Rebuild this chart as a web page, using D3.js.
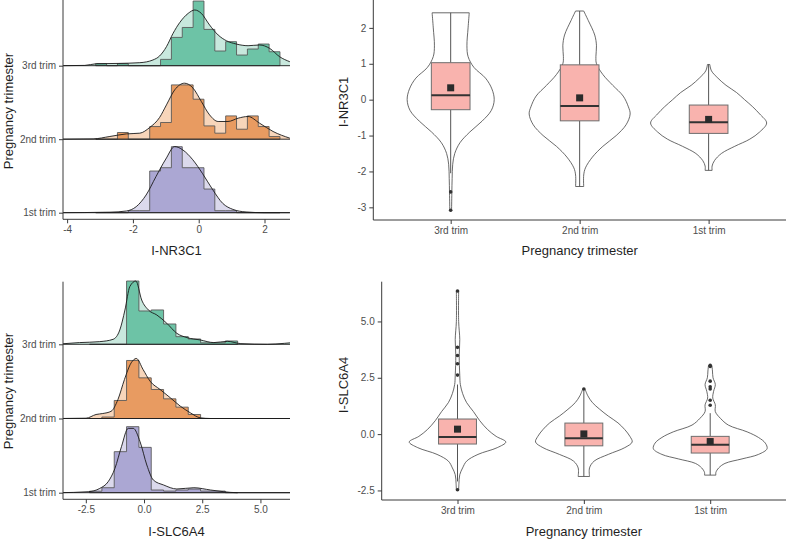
<!DOCTYPE html>
<html><head><meta charset="utf-8">
<script src="https://cdn.jsdelivr.net/npm/d3@7"></script>
<style>
body{margin:0;background:#fff}
svg{display:block}
text{font-family:"Liberation Sans",Arial,Helvetica,sans-serif}
</style>
</head><body>
<svg id="chart" width="788" height="539"></svg>
<script>
// ---------------- DATA ----------------
const groups = ["3rd trim", "2nd trim", "1st trim"];
const yTitle = "Pregnancy trimester";

// I-NR3C1 ridgeline: histogram bin edges and heights (fraction of row spacing)
const nrTicks = [-4, -2, 0, 2];
const nrEdges = [-3.13, -2.80, -2.47, -2.14, -1.81, -1.49, -1.16, -0.83, -0.50, -0.17, 0.16, 0.49, 0.82, 1.15, 1.48, 1.81, 2.14, 2.47];
const nrHist3 = [0.027, 0, 0.027, 0, 0, 0, 0.086, 0.385, 0.52, 0.88, 0.494, 0.2, 0.327, 0.145, 0.227, 0.295, 0.19];
const nrHist2 = [0, 0, 0.091, 0, 0, 0.172, 0.227, 0.739, 0.739, 0.544, 0.181, 0.082, 0.317, 0.136, 0.317, 0.172, 0.036];
const nrHist1 = [0, 0, 0, 0.027, 0.027, 0.567, 0.612, 0.898, 0.612, 0.612, 0.322, 0.027, 0.027, 0, 0, 0, 0];
// density curves [value, height]
const nrDens3 = [[-4.22,0],[-3.46,0.004],[-3.11,0.027],[-2.45,0.031],[-1.79,0.041],[-1.39,0.078],[-1.19,0.132],[-0.98,0.259],[-0.78,0.44],[-0.58,0.585],[-0.32,0.712],[-0.12,0.758],[0.08,0.712],[0.33,0.554],[0.59,0.418],[0.84,0.34],[1.14,0.295],[1.5,0.272],[1.85,0.282],[2.16,0.235],[2.46,0.122],[2.77,0.054]];
const nrDens2 = [[-4.22,0],[-3.21,0.004],[-2.7,0.037],[-2.2,0.072],[-1.79,0.082],[-1.49,0.159],[-1.19,0.295],[-0.98,0.467],[-0.73,0.671],[-0.43,0.762],[-0.17,0.694],[0.08,0.513],[0.33,0.331],[0.59,0.241],[0.89,0.241],[1.2,0.286],[1.5,0.309],[1.85,0.218],[2.26,0.105],[2.77,0.014]];
const nrDens1 = [[-4.22,0],[-2.7,0.007],[-2.2,0.023],[-1.9,0.082],[-1.6,0.24],[-1.3,0.49],[-1.0,0.73],[-0.73,0.9],[-0.48,0.853],[-0.18,0.72],[0.12,0.53],[0.43,0.31],[0.73,0.127],[1.04,0.045],[1.44,0.01],[2.0,0],[2.77,0]];

// I-SLC6A4 ridgeline
const slTicks = [-2.5, 0, 2.5, 5];
const slEdges = [-2.34, -1.81, -1.28, -0.75, -0.22, 0.31, 0.84, 1.37, 1.90, 2.43, 2.96, 3.49, 4.02];
const slHist3 = [0, 0, 0, 0.853, 0.449, 0.463, 0.274, 0.103, 0.072, 0.02, 0.02, 0.045];
const slHist2 = [0, 0.02, 0.243, 0.782, 0.548, 0.391, 0.265, 0.153, 0.054, 0, 0, 0];
const slHist1 = [0.02, 0.067, 0.553, 0.89, 0.611, 0.036, 0.022, 0.036, 0.049, 0.022, 0.022, 0];
const slDens3 = [[-3.64,0.004],[-2.77,0.023],[-1.9,0.036],[-1.33,0.067],[-1.04,0.193],[-0.82,0.462],[-0.61,0.778],[-0.35,0.853],[-0.1,0.597],[0.19,0.462],[0.55,0.395],[0.98,0.283],[1.41,0.148],[1.85,0.09],[2.42,0.058],[3.0,0.023],[3.58,0.04],[4.16,0.009],[5.3,0],[6.03,0.013],[6.4,0.023]];
const slDens2 = [[-3.64,0],[-2.49,0.004],[-2.06,0.054],[-1.77,0.067],[-1.41,0.098],[-1.12,0.256],[-0.84,0.526],[-0.55,0.751],[-0.33,0.809],[-0.04,0.66],[0.26,0.503],[0.69,0.391],[1.13,0.279],[1.56,0.166],[1.99,0.077],[2.42,0.009],[2.86,0],[6.4,0]];
const slDens1 = [[-3.64,0],[-2.4,0.013],[-1.9,0.058],[-1.54,0.148],[-1.25,0.327],[-0.97,0.62],[-0.68,0.867],[-0.46,0.867],[-0.17,0.687],[0.12,0.373],[0.4,0.171],[0.84,0.104],[1.41,0.05],[2.14,0.067],[2.86,0.036],[3.43,0.013],[4.0,0],[6.4,0]];

// Violins: [value, relative half-width]
const nrYTicks = [-3, -2, -1, 0, 1, 2];
const vioNR3 = [[2.42,0.32],[2.0,0.30],[1.5,0.28],[1.2,0.30],[0.9,0.40],[0.6,0.60],[0.3,0.71],[0,0.75],[-0.3,0.70],[-0.6,0.54],[-0.9,0.33],[-1.2,0.16],[-1.5,0.07],[-1.8,0.035],[-2.2,0.025],[-2.6,0.02],[-3.1,0.015]];
const vioNR2 = [[2.47,0.07],[2.2,0.15],[1.8,0.26],[1.5,0.29],[1.2,0.28],[1.0,0.29],[0.7,0.40],[0.4,0.57],[0.1,0.75],[-0.2,0.84],[-0.4,0.87],[-0.7,0.80],[-1.0,0.63],[-1.3,0.40],[-1.6,0.22],[-1.9,0.10],[-2.1,0.07],[-2.42,0.07]];
const vioNR1 = [[0.98,0.02],[0.8,0.05],[0.6,0.16],[0.4,0.30],[0.2,0.48],[0,0.62],[-0.2,0.76],[-0.4,0.88],[-0.65,1.0],[-0.9,0.88],[-1.1,0.71],[-1.3,0.45],[-1.5,0.22],[-1.7,0.10],[-1.85,0.06],[-1.97,0.06]];
// box stats: [whiskerLow, q1, median, q3, whiskerHigh, mean]
const boxNR = [[-2.05,-0.28,0.12,1.03,2.42,0.33],[-2.42,-0.59,-0.18,0.97,2.47,0.05],[-1.97,-0.94,-0.63,-0.15,0.98,-0.55]];
const outNR = [[-2.57,-3.08],[],[]];

const slYTicks = [-2.5, 0, 2.5, 5];
const vioSL3 = [[6.35,0.02],[5.0,0.02],[4.2,0.04],[3.5,0.03],[2.6,0.04],[2.2,0.05],[1.8,0.09],[1.4,0.16],[1.0,0.28],[0.6,0.39],[0.2,0.53],[-0.1,0.68],[-0.35,0.85],[-0.6,0.70],[-0.9,0.36],[-1.2,0.16],[-1.5,0.09],[-1.8,0.04],[-2.2,0.025],[-2.5,0.02]];
const vioSL2 = [[2.0,0.02],[1.7,0.07],[1.4,0.15],[1.1,0.28],[0.8,0.43],[0.5,0.60],[0.2,0.72],[-0.1,0.81],[-0.35,0.85],[-0.6,0.72],[-0.9,0.43],[-1.2,0.18],[-1.5,0.10],[-1.88,0.10]];
const vioSL1 = [[3.05,0.03],[2.8,0.04],[2.5,0.05],[2.2,0.09],[1.9,0.06],[1.6,0.045],[1.3,0.09],[1.0,0.09],[0.7,0.18],[0.4,0.32],[0.1,0.65],[-0.15,0.85],[-0.4,0.97],[-0.65,1.0],[-0.9,0.85],[-1.1,0.56],[-1.3,0.26],[-1.5,0.15],[-1.7,0.10],[-1.82,0.10]];
const boxSL = [[-2.1,-0.44,-0.13,0.67,2.2,0.22],[-1.88,-0.52,-0.18,0.49,1.95,0.01],[-1.82,-0.84,-0.47,-0.1,0.93,-0.33]];
const outSL = [[2.62,3.12,3.49,3.85,6.35,-2.47],[2.0],[1.28,1.5,2.0,2.1,2.35,3.0,3.05]];

// ---------------- STYLE ----------------
const histFill = ["#6dc3a6", "#e89b61", "#aba7d3"];
const densFill = ["#c8e8dd", "#f7d5ba", "#dbd9ec"];
const axisCol = "#3a3a3a", tickTextCol = "#4d4d4d", titleCol = "#1f1f1f";

const svg = d3.select("#chart");

function styleAxis(g){
  g.selectAll(".domain").remove();
  g.selectAll(".tick line").attr("stroke", axisCol);
  g.selectAll(".tick text").attr("fill", tickTextCol).style("font-size","10px");
}

function ridge(c){
  const x = d3.scaleLinear().domain(c.xDomain).range([c.left, c.right]);
  const y = d3.scalePoint().domain(groups).range([c.base0, c.base2]);
  const rowH = y.step();
  const h = d3.scaleLinear().domain([0,1]).range([0,rowH]);
  const id = "clip" + c.name;
  svg.append("clipPath").attr("id", id).append("rect")
    .attr("x", c.left).attr("y", c.top - 20).attr("width", c.right - c.left).attr("height", c.axisY - c.top + 20);
  const g = svg.append("g").attr("clip-path", `url(#${id})`);
  groups.forEach((grp, i) => {
    const b = y(grp);
    const dens = c.dens[i], hist = c.hist[i];
    const area = d3.area().x(d => x(d[0])).y0(b).y1(d => b - h(d[1])).curve(d3.curveMonotoneX);
    const line = d3.line().x(d => x(d[0])).y(d => b - h(d[1])).curve(d3.curveMonotoneX);
    g.append("path").attr("d", area(dens)).attr("fill", densFill[i]);
    // histogram step path
    const e = c.edges;
    let p = `M${x(e[0])},${b}`;
    hist.forEach((v, k) => { p += `L${x(e[k])},${b - h(v)}L${x(e[k+1])},${b - h(v)}`; });
    p += `L${x(e[e.length-1])},${b}Z`;
    g.append("path").attr("d", p).attr("fill", histFill[i])
      .attr("stroke", "#555").attr("stroke-opacity", 0.85).attr("stroke-width", 1).attr("stroke-linejoin","miter");
    // baseline extending across
    g.append("line").attr("x1", c.left).attr("x2", c.right).attr("y1", b).attr("y2", b)
      .attr("stroke", "#1a1a1a").attr("stroke-width", 0.9);
    g.append("path").attr("d", line(dens)).attr("fill", "none").attr("stroke", "#1a1a1a").attr("stroke-width", 0.9);
  });
  // axes lines
  svg.append("line").attr("x1", c.left).attr("x2", c.left).attr("y1", c.top).attr("y2", c.axisY).attr("stroke", axisCol);
  svg.append("line").attr("x1", c.left).attr("x2", c.right).attr("y1", c.axisY).attr("y2", c.axisY).attr("stroke", axisCol);
  const ax = svg.append("g").attr("transform", `translate(0,${c.axisY})`)
    .call(d3.axisBottom(x).tickValues(c.ticks).tickSize(4).tickPadding(3).tickFormat(c.fmt));
  styleAxis(ax);
  const ay = svg.append("g").attr("transform", `translate(${c.left},0)`)
    .call(d3.axisLeft(y).tickSize(4).tickPadding(3));
  styleAxis(ay);
  svg.append("text").attr("x", (c.left + c.right)/2).attr("y", c.xTitleY).attr("text-anchor","middle")
    .attr("fill", titleCol).style("font-size","13px").text(c.xTitle);
  svg.append("text").attr("transform", `translate(${c.yTitleX},${c.yTitleY}) rotate(-90)`).attr("text-anchor","middle")
    .attr("dy","0.35em").attr("fill", titleCol).style("font-size","13px").text(yTitle);
}

function violin(c){
  const x = d3.scalePoint().domain(groups).range([c.left, c.right]).padding(0.6);
  const y = d3.scaleLinear().domain(c.yDomain).range([c.axisY, c.top]);
  const hw = x.step() * 0.45;
  const bw = x.step() * 0.3;
  const g = svg.append("g");
  groups.forEach((grp, i) => {
    const cx = x(grp);
    const v = c.vio[i];
    const right = d3.line().x(d => cx + hw*d[1]).y(d => y(d[0])).curve(d3.curveCatmullRom.alpha(0.5));
    const left = d3.line().x(d => cx - hw*d[1]).y(d => y(d[0])).curve(d3.curveCatmullRom.alpha(0.5));
    const rp = right(v);
    const lp = left(v.slice().reverse());
    g.append("path").attr("d", rp + "L" + lp.slice(1) + "Z")
      .attr("fill", "#fff").attr("stroke", "#444").attr("stroke-width", 0.8);
    const s = c.box[i];
    g.append("line").attr("x1", cx).attr("x2", cx).attr("y1", y(s[4])).attr("y2", y(s[3])).attr("stroke","#555").attr("stroke-width",1);
    g.append("line").attr("x1", cx).attr("x2", cx).attr("y1", y(s[1])).attr("y2", y(s[0])).attr("stroke","#555").attr("stroke-width",1);
    g.append("rect").attr("x", cx - bw/2).attr("width", bw).attr("y", y(s[3])).attr("height", y(s[1]) - y(s[3]))
      .attr("fill", "#f9b3ae").attr("stroke", "#6e6e6e").attr("stroke-width", 1);
    g.append("line").attr("x1", cx - bw/2).attr("x2", cx + bw/2).attr("y1", y(s[2])).attr("y2", y(s[2]))
      .attr("stroke", "#333").attr("stroke-width", 2);
    g.append("rect").attr("x", cx - 3.5).attr("y", y(s[5]) - 3.5).attr("width", 7).attr("height", 7).attr("fill", "#2b2b2b");
    c.out[i].forEach(o => g.append("circle").attr("cx", cx).attr("cy", y(o)).attr("r", 1.8).attr("fill", "#333"));
  });
  svg.append("line").attr("x1", c.left).attr("x2", c.left).attr("y1", c.top).attr("y2", c.axisY).attr("stroke", axisCol);
  svg.append("line").attr("x1", c.left).attr("x2", c.right).attr("y1", c.axisY).attr("y2", c.axisY).attr("stroke", axisCol);
  const ax = svg.append("g").attr("transform", `translate(0,${c.axisY})`)
    .call(d3.axisBottom(x).tickSize(4).tickPadding(3));
  styleAxis(ax);
  const ay = svg.append("g").attr("transform", `translate(${c.left},0)`)
    .call(d3.axisLeft(y).tickValues(c.ticks).tickSize(4).tickPadding(3).tickFormat(c.fmt));
  styleAxis(ay);
  svg.append("text").attr("x", (c.left + c.right)/2).attr("y", c.xTitleY).attr("text-anchor","middle")
    .attr("fill", titleCol).style("font-size","13px").text(yTitle);
  svg.append("text").attr("transform", `translate(${c.yTitleX},${c.yTitleY}) rotate(-90)`).attr("text-anchor","middle")
    .attr("dy","0.35em").attr("fill", titleCol).style("font-size","13px").text(c.yTitle);
}

ridge({name:"nr", left:63, right:290, top:-5, axisY:219.3, base0:65.7, base2:212.7,
  xDomain:[-4.125, 2.775], ticks:nrTicks, fmt:d => String(d),
  edges:nrEdges, hist:[nrHist3, nrHist2, nrHist1], dens:[nrDens3, nrDens2, nrDens1],
  xTitle:"I-NR3C1", xTitleY:254.5, yTitleX:8, yTitleY:111});
ridge({name:"sl", left:63, right:290, top:281.7, axisY:499.3, base0:344.3, base2:492.7,
  xDomain:[-3.48, 6.27], ticks:slTicks, fmt:d => d.toFixed(1),
  edges:slEdges, hist:[slHist3, slHist2, slHist1], dens:[slDens3, slDens2, slDens1],
  xTitle:"I-SLC6A4", xTitleY:535.5, yTitleX:8, yTitleY:391});
violin({left:373.3, right:786, top:-5, axisY:220, yDomain:[-3.353, 2.916 ],
  vio:[vioNR3, vioNR2, vioNR1], box:boxNR, out:outNR, ticks:nrYTicks, fmt:d => String(d),
  xTitleY:254.5, yTitle:"I-NR3C1", yTitleX:343, yTitleY:102});
violin({left:381.7, right:786, top:281.7, axisY:500, yDomain:[-2.924, 6.764],
  vio:[vioSL3, vioSL2, vioSL1], box:boxSL, out:outSL, ticks:slYTicks, fmt:d => d.toFixed(1),
  xTitleY:535.5, yTitle:"I-SLC6A4", yTitleX:343, yTitleY:385});
</script>
</body></html>
